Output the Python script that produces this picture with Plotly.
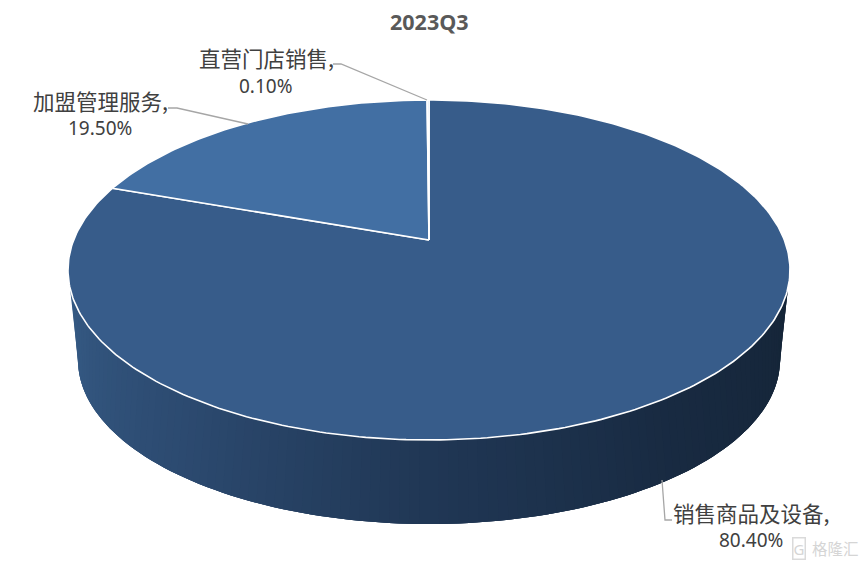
import math
import plotly.graph_objects as go

title = "2023Q3"
categories = ["销售商品及设备", "加盟管理服务", "直营门店销售"]
values = [80.40, 19.50, 0.10]
slice_colors = ["#375C8A", "#426FA3", "#A9C4E4"]
wall_stops = [(0.0, (0x35, 0x5A, 0x84)), (0.25, (0x2C, 0x4A, 0x70)), (0.5, (0x20, 0x37, 0x55)),
              (0.75, (0x18, 0x2A, 0x41)), (1.0, (0x15, 0x25, 0x38))]
label_pos = [(751, 512, 540), (100, 100, 128), (266, 57, 86)]
leaders = [[(662, 480), (665, 520), (672, 520)],
           [(168, 108), (177, 108), (248, 124)],
           [(333, 64), (341, 64), (427, 100)]]

CX, CY, RX, RY, APEX = 429, 270, 361, 170, 30
BOT_CY, BOT_RX, BOT_RY = 360, 351, 164
c = APEX / RY
k = RX * math.sqrt(1 - c * c)


def project(theta):
    u, v = math.sin(theta), math.cos(theta)
    d = 1 + c * v
    return CX + k * u / d, CY - (RY * v + APEX) / d


def wall_color(s):
    for (s0, c0), (s1, c1) in zip(wall_stops, wall_stops[1:]):
        if s <= s1:
            t = (s - s0) / (s1 - s0)
            return "rgb(%d,%d,%d)" % tuple(round(a + (b - a) * t) for a, b in zip(c0, c1))
    return "rgb(21,37,56)"


fig = go.Figure()

# side wall: gradient built from overlapping thin strips, painted left to right
N = 110
def wall_top(s):
    p = math.radians(174 - 168 * s)
    return CX + RX * math.cos(p), CY + RY * math.sin(p)
def wall_bot(s):
    p = math.radians(180 - 180 * s)
    return CX + BOT_RX * math.cos(p), BOT_CY + BOT_RY * math.sin(p)

for i in range(N):
    s0, s1 = i / N, min(1.0, (i + 3) / N)
    col = wall_color((i + 0.5) / N)
    ss = [s0 + (s1 - s0) * j / 3 for j in range(4)]
    top = [wall_top(s) for s in ss]
    bot = [wall_bot(s) for s in reversed(ss)]
    poly = top + bot + [top[0]]
    fig.add_trace(go.Scatter(x=[p[0] for p in poly], y=[p[1] for p in poly],
                             mode="none", fill="toself", fillcolor=col,
                             hoverinfo="skip", showlegend=False))

# top face slices, clockwise from 12 o'clock
total = sum(values)
start = 0.0
apex_xy = (CX, CY - APEX)
for name, val, col in zip(categories, values, slice_colors):
    sweep = 2 * math.pi * val / total
    n = max(2, int(val * 4))
    pts = [project(start + sweep * j / n) for j in range(n + 1)]
    xs = [apex_xy[0]] + [p[0] for p in pts] + [apex_xy[0]]
    ys = [apex_xy[1]] + [p[1] for p in pts] + [apex_xy[1]]
    fig.add_trace(go.Scatter(x=xs, y=ys, mode="lines", fill="toself", fillcolor=col, name=name,
                             line=dict(color="white", width=1.6), hoverinfo="name", showlegend=False))
    start += sweep

for pts in leaders:
    fig.add_trace(go.Scatter(x=[p[0] for p in pts], y=[p[1] for p in pts], mode="lines",
                             line=dict(color="#A6A6A6", width=1.3), hoverinfo="skip", showlegend=False))

annotations = [dict(x=429, y=21, text="<b>%s</b>" % title, showarrow=False,
                    font=dict(family="Open Sans, Noto Sans CJK SC", size=21.5, color="#595959"))]
lab_font = dict(family="Noto Sans CJK SC", size=21.5, color="#404040")
num_font = dict(family="Noto Sans, Noto Sans CJK SC", size=19, color="#404040")
for name, val, (lx, y1, y2) in zip(categories, values, label_pos):
    annotations.append(dict(x=lx, y=y1, text=name + ",", showarrow=False, font=lab_font))
    annotations.append(dict(x=lx, y=y2, text="%.2f%%" % val, showarrow=False, font=num_font))

# watermark
annotations.append(dict(x=799, y=548, text="G", showarrow=False, borderpad=0, bordercolor="#DADADA", borderwidth=1.5,
                        font=dict(family="Noto Sans", size=15, color="#D5D5D5")))
annotations.append(dict(x=835, y=548, text="格隆汇", showarrow=False,
                        font=dict(family="Noto Sans CJK SC", size=15.5, color="#D5D5D5")))

fig.update_layout(
    width=865, height=566, margin=dict(l=0, r=0, t=0, b=0),
    paper_bgcolor="white", plot_bgcolor="white", showlegend=False,
    xaxis=dict(range=[0, 865], visible=False, fixedrange=True),
    yaxis=dict(range=[566, 0], visible=False, fixedrange=True),
    annotations=annotations,
)
fig.write_html("out.html", config=dict(displayModeBar=False),
               post_script="document.body.style.margin='0';document.body.style.overflow='hidden';")
